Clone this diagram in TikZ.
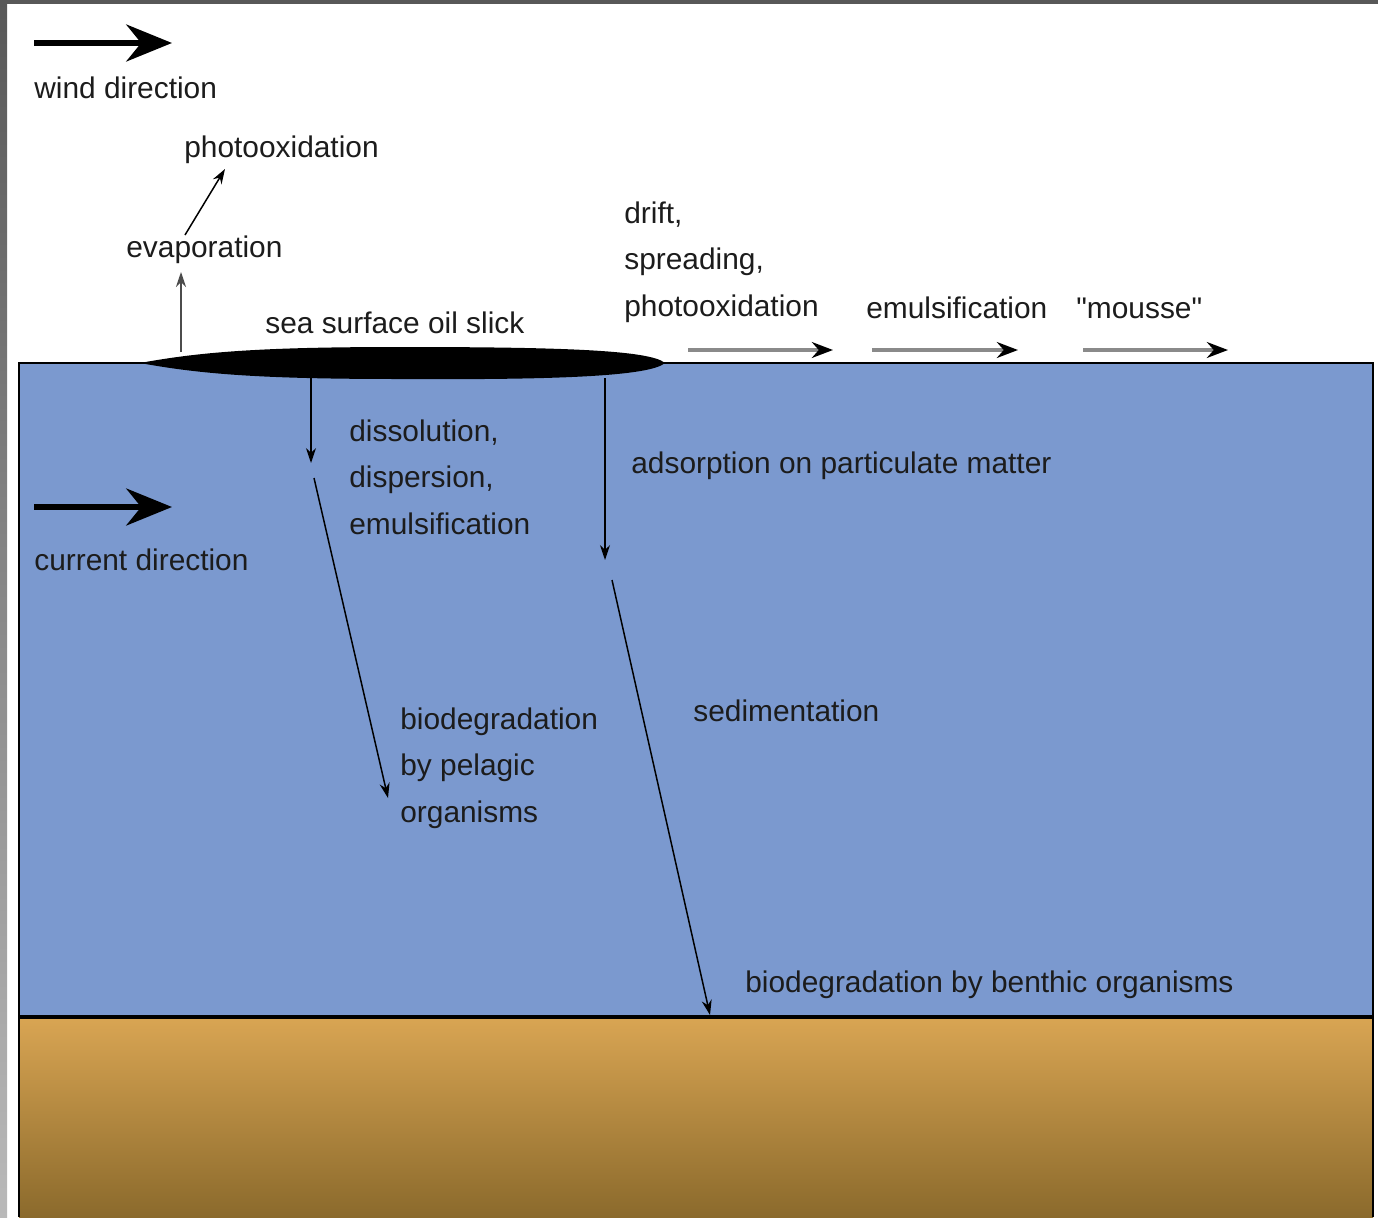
\documentclass[tikz,border=0pt]{standalone}
\usepackage{fontspec}
\setmainfont{Liberation Sans}[Ligatures=TeXOff]
\usetikzlibrary{arrows.meta}
\definecolor{seablue}{HTML}{7B99CF}
\definecolor{sandtop}{HTML}{D9A553}
\definecolor{sandbot}{HTML}{8B6A2C}
\definecolor{framegray}{HTML}{585858}
\definecolor{inkgray}{HTML}{1C1C1C}
\definecolor{arrowgray}{HTML}{8A8A8A}
\tikzset{
	txt/.style={anchor=west, inner sep=0pt, text=inkgray, align=left, font=\fontsize{17}{26.5}\selectfont},
	thinarrow/.style={line width=0.85pt, -{Stealth[length=8.5pt,width=5.7pt]}},
	bigarrow/.style={line width=3.4pt, -{Stealth[length=26pt,width=21pt]}},
	grayarrow/.style={draw=arrowgray, line width=2.2pt, -{Stealth[length=12pt,width=9pt,color=black]}},
}

\begin{document}
\begin{tikzpicture}[x=0.02cm, y=-0.02cm]

	\useasboundingbox (0,0) rectangle (1378,1217);
	\fill[framegray] (0,0) rectangle (1378,4);
	\shade[top color=framegray, bottom color=gray!55] (0,0) rectangle (7,1217);

	% sea and sea floor
	\draw[fill=seablue, line width=1.5pt] (19,363) rectangle (1373,1017);
	\shade[top color=sandtop, bottom color=sandbot] (19,1017) rectangle (1373,1217);
	\draw[line width=1.2pt] (19,1217) -- (19,1017) (1373,1017) -- (1373,1217);
	\draw[line width=2.4pt] (19,1017) -- (1373,1017);

	% oil slick
	\fill (140,363) .. controls (200,352) and (260,347) .. (400,347) .. controls (560,347) and (650,350) .. (665,363)
		.. controls (650,376) and (560,380) .. (400,379) .. controls (260,379) and (200,374) .. (140,363) -- cycle;

	\node[txt] (wind) at (34,88) {wind direction};
	\node[txt] (photo) at (184,150) {photooxidation};
	\node[txt] (evap) at (126,250) {evaporation};
	\node[txt] (slick) at (265,323) {sea surface oil slick};
	\node[txt] (drift) at (624,262) {drift,\\spreading,\\photooxidation};
	\node[txt] (emuls) at (866,308) {emulsification};
	\node[txt] (mousse) at (1076,308) {"mousse"};
	\node[txt] (dissol) at (349,477) {dissolution,\\dispersion,\\emulsification};
	\node[txt] (adsorp) at (631,466) {adsorption on particulate matter};
	\node[txt] (current) at (34,560) {current direction};
	\node[txt] (pelagic) at (400,768) {biodegradation\\by pelagic\\organisms};
	\node[txt] (sedim) at (693,711) {sedimentation};
	\node[txt] (benthic) at (745,985) {biodegradation by benthic organisms};

	\coordinate (wind0) at (34,43);
	\coordinate (wind1) at (172,43);
	\coordinate (curr0) at (34,507);
	\coordinate (curr1) at (172,507);
	\coordinate (evap0) at (181,352);
	\coordinate (evap1) at (181,272);
	\coordinate (photo0) at (185,235);
	\coordinate (photo1) at (225,169);
	\coordinate (driftA) at (688,350);
	\coordinate (driftB) at (833,350);
	\coordinate (emulsA) at (872,350);
	\coordinate (emulsB) at (1018,350);
	\coordinate (mousseA) at (1083,350);
	\coordinate (mousseB) at (1228,350);
	\coordinate (diss0) at (311,378);
	\coordinate (diss1) at (311,463);
	\coordinate (pel0) at (314,478);
	\coordinate (pel1) at (388,798);
	\coordinate (ads0) at (605,378);
	\coordinate (ads1) at (605,560);
	\coordinate (sed0) at (612,580);
	\coordinate (sed1) at (710,1015);

	\draw[bigarrow] (wind0) -- (wind1);
	\draw[bigarrow] (curr0) -- (curr1);
	\draw[thinarrow, line width=1.1pt, draw=gray!60!black] (evap0) -- (evap1);
	\draw[thinarrow] (photo0) -- (photo1);
	\draw[grayarrow] (driftA) -- (driftB);
	\draw[grayarrow] (emulsA) -- (emulsB);
	\draw[grayarrow] (mousseA) -- (mousseB);
	\draw[thinarrow] (diss0) -- (diss1);
	\draw[thinarrow] (pel0) -- (pel1);
	\draw[thinarrow] (ads0) -- (ads1);
	\draw[thinarrow] (sed0) -- (sed1);

\end{tikzpicture}
\end{document}
